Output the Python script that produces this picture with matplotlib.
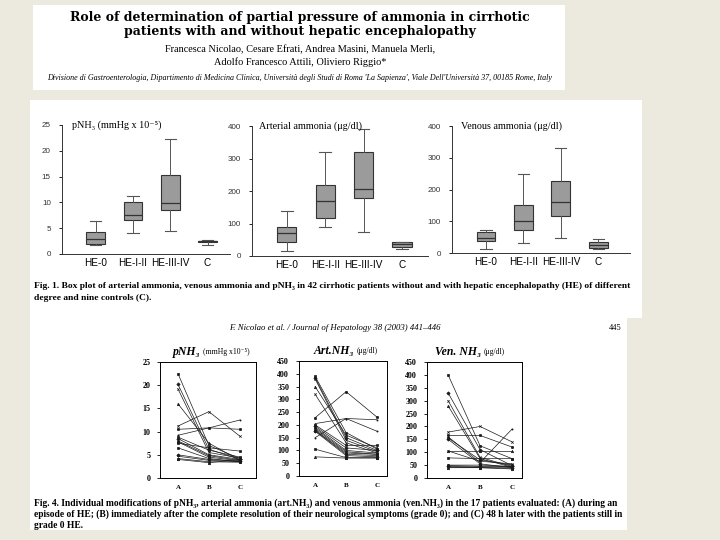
import numpy as np
import matplotlib.pyplot as plt
from matplotlib.patches import Rectangle

W, H = 720, 540
BG = '#ECE9DF'
SERIF = ['Liberation Serif', 'DejaVu Serif']
WIDE_SERIF = ['DejaVu Serif']
SANS = ['Liberation Sans', 'DejaVu Sans']

# Fig. 1 - box plots
groups = ['HE-0', 'HE-I-II', 'HE-III-IV', 'C']
pnh3_lo = [1.7, 4.0, 4.5, 1.7]
pnh3_q1 = [2.0, 6.5, 8.6, 2.3]
pnh3_med = [3.0, 7.5, 9.8, 2.45]
pnh3_q3 = [4.2, 10.0, 15.3, 2.6]
pnh3_hi = [6.3, 11.2, 22.3, 2.7]

art_lo = [15, 90, 75, 22]
art_q1 = [42, 118, 180, 28]
art_med = [70, 168, 205, 36]
art_q3 = [88, 218, 320, 42]
art_hi = [140, 320, 392, 42]

ven_lo = [12, 30, 48, 12]
ven_q1 = [37, 72, 118, 15]
ven_med = [47, 100, 160, 25]
ven_q3 = [65, 150, 226, 35]
ven_hi = [72, 250, 330, 45]

# Fig. 4 - individual patients at times A, B, C
times = ['A', 'B', 'C']
pnh3_A = [22.5, 20.2, 19.2, 16.0, 11.2, 10.5, 9.2, 8.8, 8.5, 8.0, 7.8, 7.5, 6.5, 5.0, 4.7, 4.2, 4.0]
pnh3_B = [7.0, 6.2, 5.5, 7.5, 14.3, 10.8, 10.8, 6.0, 5.0, 4.8, 4.5, 6.5, 4.2, 4.0, 3.8, 3.5, 3.3]
pnh3_C = [4.2, 4.0, 4.3, 3.8, 9.0, 10.5, 12.5, 4.5, 4.0, 3.8, 3.7, 5.8, 3.5, 3.6, 3.5, 3.4, 4.0]

art_A = [390, 385, 380, 350, 320, 228, 205, 200, 195, 190, 185, 180, 178, 175, 150, 105, 75]
art_B = [170, 150, 140, 160, 130, 330, 225, 120, 110, 100, 95, 90, 85, 80, 225, 72, 70]
art_C = [105, 100, 95, 110, 90, 230, 175, 120, 100, 90, 85, 85, 80, 75, 220, 72, 70]

ven_A = [400, 330, 300, 280, 178, 165, 160, 155, 150, 105, 105, 78, 50, 48, 45, 42, 40]
ven_B = [125, 110, 80, 75, 200, 165, 60, 70, 55, 105, 65, 75, 50, 45, 42, 40, 40]
ven_C = [75, 48, 45, 42, 140, 120, 190, 50, 40, 105, 55, 75, 45, 45, 42, 38, 35]

MARKERS = ['s', 'D', 'x', '^', 'x', 'o', '.', 's', 'D', '^', 'x', 's', 'o', 'D', '.', 's', '^']


def rect(x0, y0, x1, y1):
    return [x0 / W, 1 - y1 / H, (x1 - x0) / W, (y1 - y0) / H]


def ftext(x, y, s, **kw):
    fig.text(x / W, 1 - y / H, s, va='center', **kw)


fig = plt.figure(figsize=(7.2, 5.4), dpi=100, facecolor=BG)

# white paper panels
for x0, y0, x1, y1 in [(33, 5, 565, 90), (30, 100, 642, 318), (30, 318, 627, 530)]:
    fig.add_artist(Rectangle((x0 / W, 1 - y1 / H), (x1 - x0) / W, (y1 - y0) / H,
                             transform=fig.transFigure, facecolor='white', edgecolor='none', zorder=0))

# title block
ftext(300, 17, 'Role of determination of partial pressure of ammonia in cirrhotic',
      ha='center', family=WIDE_SERIF, weight='bold', fontsize=9)
ftext(300, 32, 'patients with and without hepatic encephalopathy',
      ha='center', family=WIDE_SERIF, weight='bold', fontsize=9)
ftext(300, 50, 'Francesca Nicolao, Cesare Efrati, Andrea Masini, Manuela Merli,',
      ha='center', family=SERIF, fontsize=7.4)
ftext(300, 62, 'Adolfo Francesco Attili, Oliviero Riggio*',
      ha='center', family=SERIF, fontsize=7.4)
ftext(300, 78, "Divisione di Gastroenterologia, Dipartimento di Medicina Clinica, Università degli Studi di Roma "
      "'La Sapienza', Viale Dell'Università 37, 00185 Rome, Italy",
      ha='center', family=SERIF, style='italic', fontsize=5.8)


def boxpanel(box, xlim, ylim, yticks, lo, q1, med, q3, hi, label, lab_x):
    ax = fig.add_axes(rect(*box))
    stats = [dict(whislo=a, q1=b, med=c, q3=d, whishi=e, fliers=[])
             for a, b, c, d, e in zip(lo, q1, med, q3, hi)]
    ax.bxp(stats, positions=[1, 2, 3, 4], widths=0.5, capwidths=0.3, patch_artist=True,
           boxprops=dict(facecolor='#9b9b9b', edgecolor='#333333', lw=0.8),
           medianprops=dict(color='#333333', lw=0.9),
           whiskerprops=dict(color='#555555', lw=0.7),
           capprops=dict(color='#555555', lw=0.8))
    ax.set_xlim(xlim)
    ax.set_ylim(ylim)
    ax.set_yticks(yticks)
    ax.set_yticklabels([str(t) for t in yticks], family=SANS, fontsize=5.8, color='#333333')
    ax.set_xticks([1, 2, 3, 4])
    ax.set_xticklabels(groups, family=SANS, fontsize=7.2)
    ax.tick_params(axis='x', length=0, pad=3)
    ax.tick_params(axis='y', length=2, width=0.6, pad=6)
    for s in ['top', 'right']:
        ax.spines[s].set_visible(False)
    for s in ['left', 'bottom']:
        ax.spines[s].set_linewidth(0.7)
        ax.spines[s].set_color('#333333')
    ax.patch.set_alpha(0)
    ax.text(lab_x, 1.0, label, transform=ax.transAxes, family=SERIF, fontsize=7.3, va='center')
    return ax


boxpanel((62, 125, 230, 254), (0.1, 4.6), (0, 25), [0, 5, 10, 15, 20, 25],
         pnh3_lo, pnh3_q1, pnh3_med, pnh3_q3, pnh3_hi, 'pNH₃ (mmHg x 10⁻⁵)', 0.06)
boxpanel((252, 126, 428, 256), (0.09, 4.68), (0, 400), [0, 100, 200, 300, 400],
         art_lo, art_q1, art_med, art_q3, art_hi, 'Arterial ammonia (μg/dl)', 0.04)
boxpanel((452, 126, 630, 253), (0.09, 4.85), (0, 400), [0, 100, 200, 300, 400],
         ven_lo, ven_q1, ven_med, ven_q3, ven_hi, 'Venous ammonia (μg/dl)', 0.05)

ftext(34, 286, 'Fig. 1. Box plot of arterial ammonia, venous ammonia and pNH₃ in 42 cirrhotic patients '
      'without and with hepatic encephalopathy (HE) of different',
      ha='left', family=SERIF, weight='bold', fontsize=6.8)
ftext(34, 298, 'degree and nine controls (C).', ha='left', family=SERIF, weight='bold', fontsize=6.8)

# journal header
ftext(335, 328, 'F. Nicolao et al. / Journal of Hepatology 38 (2003) 441–446',
      ha='center', family=SERIF, style='italic', fontsize=6.3)
ftext(615, 328, '445', ha='center', family=SERIF, fontsize=6)


def linepanel(box, xlim, ymax, ystep, a, b, c, title, unit, tx):
    ax = fig.add_axes(rect(*box))
    for i, vals in enumerate(zip(a, b, c)):
        ax.plot([1, 2, 3], vals, color='#1a1a1a', lw=0.5, marker=MARKERS[i % len(MARKERS)],
                ms=1.7, mew=0.5)
    ax.set_xlim(xlim)
    ax.set_ylim(0, ymax)
    yt = np.arange(0, ymax + 1, ystep)
    ax.set_yticks(yt)
    ax.set_yticklabels([str(int(t)) for t in yt], family=SERIF, weight='bold', fontsize=5.8)
    ax.set_xticks([1, 2, 3])
    ax.set_xticklabels(times, family=SERIF, weight='bold', fontsize=5)
    ax.tick_params(axis='y', length=2, width=0.6, pad=5)
    ax.tick_params(axis='x', length=0, pad=5)
    for s in ax.spines.values():
        s.set_linewidth(0.7)
    ax.text(tx, 1.09, title, transform=ax.transAxes, family=SERIF, weight='bold', style='italic',
            fontsize=8.5, ha='right', va='center')
    ax.text(tx + 0.03, 1.09, unit, transform=ax.transAxes, family=SERIF, fontsize=5.5,
            ha='left', va='center')
    return ax


linepanel((160, 362, 256, 478), (0.42, 3.52), 25, 5, pnh3_A, pnh3_B, pnh3_C,
          'pNH₃', '(mmHg x10⁻⁵)', 0.42)
linepanel((299, 361, 387, 476), (0.48, 3.32), 450, 50, art_A, art_B, art_C,
          'Art.NH₃', '(μg/dl)', 0.63)
linepanel((427, 362, 522, 478), (0.34, 3.31), 450, 50, ven_A, ven_B, ven_C,
          'Ven. NH₃', '(μg/dl)', 0.57)

cap = ['Fig. 4. Individual modifications of pNH₃, arterial ammonia (art.NH₃) and venous ammonia (ven.NH₃) '
       'in the 17 patients evaluated: (A) during an',
       'episode of HE; (B) immediately after the complete resolution of their neurological symptoms '
       '(grade 0); and (C) 48 h later with the patients still in',
       'grade 0 HE.']
for k, line in enumerate(cap):
    ftext(34, 503 + 11 * k, line, ha='left', family=SERIF, weight='bold', fontsize=6.85)

fig.savefig('out.png', dpi=100, facecolor=BG)
